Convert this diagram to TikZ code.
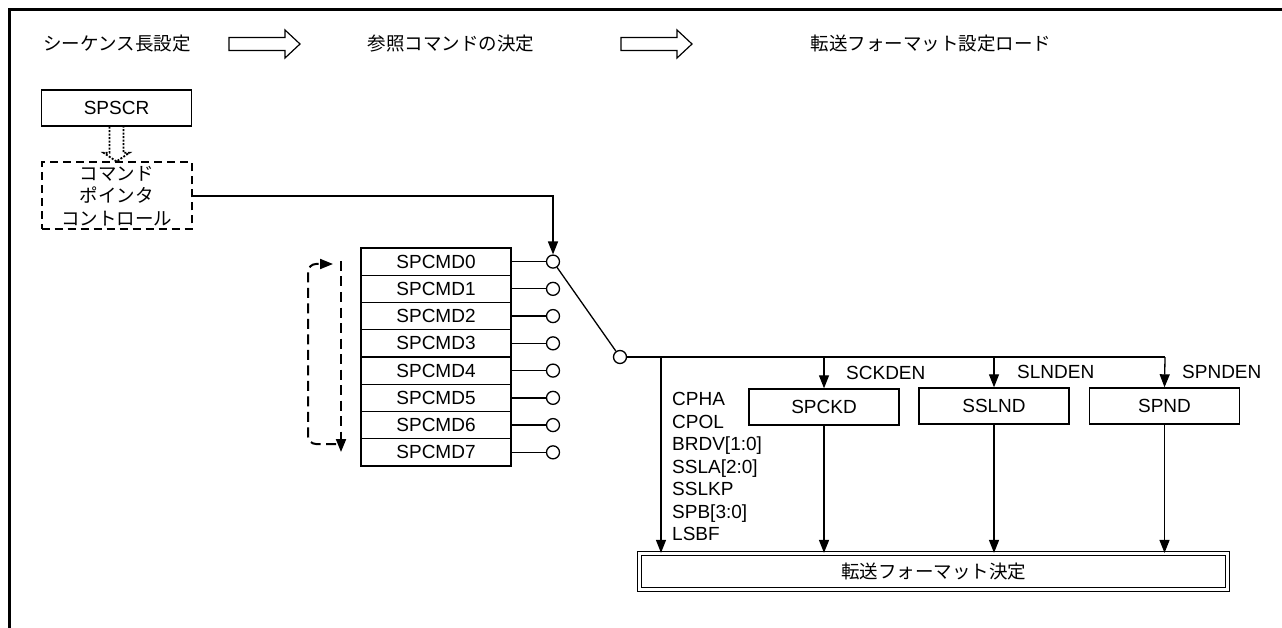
\documentclass[tikz,border=0pt]{standalone}
\usepackage{fontspec}
\setmainfont{Liberation Sans}
\newfontfamily\jp{Noto Sans CJK JP}
\usetikzlibrary{arrows.meta,calc}
\begin{document}
\begin{tikzpicture}[x=1pt,y=-1pt,
  every node/.style={font=\fontsize{19}{22.5}\selectfont, inner sep=0pt},
  jpt/.style={font=\jp\fontsize{18.5}{22.5}\selectfont},
  box/.style={draw, line width=1.4pt, minimum width=150pt, minimum height=36pt},
  cmdbox/.style={draw, line width=1.4pt, minimum width=150pt, minimum height=27.25pt},
  circ/.style={draw, circle, line width=1.3pt, minimum size=13pt, fill=white},
  conn/.style={line width=1.3pt},
  arr/.style={conn, -{Triangle[length=13pt,width=10pt]}},
  loopline/.style={line width=2pt, dash pattern=on 10pt off 5.5pt},
  blockarrow/.style={line width=1.2pt, line join=miter},
  fmtbox/.style={draw, double, line width=1.2pt, double distance=2.4pt, minimum width=588pt, minimum height=36pt}
]
\useasboundingbox (0,0) rectangle (1282,628);
% frame
\draw[line width=3pt, line join=miter] (9,628) -- (9,10) -- (1282,10);

% headers
\node[jpt] (h1) at (117,44) {シーケンス長設定};
\node[jpt] (h2) at (451,44) {参照コマンドの決定};
\node[jpt] (h3) at (931,44) {転送フォーマット設定ロード};
\draw[blockarrow] (229,37.5) -- (285,37.5) -- (285,30) -- (300,44) -- (285,58) -- (285,50.5) -- (229,50.5) -- cycle;
\draw[blockarrow] (621,37.5) -- (677,37.5) -- (677,30) -- (692,44) -- (677,58) -- (677,50.5) -- (621,50.5) -- cycle;

% SPSCR and command pointer control
\node[box] (spscr) at (116.5,108) {SPSCR};
\node[jpt, draw, line width=2pt, dash pattern=on 8pt off 5pt, minimum width=150pt, minimum height=67pt, align=center] (cp) at (116.5,196) {コマンド\\ポインタ\\コントロール};
\draw[line width=1.8pt, dash pattern=on 2pt off 1.5pt]
  ($(spscr.south)+(-7,0)$) -- ($(spscr.south)+(-7,26)$) -- ($(spscr.south)+(-13,26)$)
  -- (cp.north) -- ($(spscr.south)+(13,26)$) -- ($(spscr.south)+(7,26)$) -- ($(spscr.south)+(7,0)$);

% command registers
\foreach \i in {0,...,7}{
  \node[cmdbox] (cmd\i) at (436,{261.6+27.25*\i}) {SPCMD\i};
  \node[circ] (c\i) at (553,{261.6+27.25*\i}) {};
  \draw[conn] (cmd\i.east) -- (c\i.west);
}
\draw[arr] (cp.east) -| (c0.north);

% loop arrow
\draw[loopline, -{Triangle[length=13pt,width=10pt]}] (341,261) -- (341,452);
\draw[loopline, rounded corners=8pt, -{Triangle[length=13pt,width=10pt]}] (336,444) -- (308,444) -- (308,264) -- (333,264);

% switch
\node[circ] (s) at (620,357) {};
\draw[conn] (c0) -- (s);
\coordinate (b1) at (661,357);
\coordinate (b2) at (824,357);
\coordinate (b3) at (994,357);
\coordinate (b4) at (1165,357);
\draw[conn] (s.east) -- (b4);

% target registers
\node[box] (spckd) at (824,407) {SPCKD};
\node[box] (sslnd) at (994,406) {SSLND};
\node[box] (spnd) at (1164.5,406) {SPND};
\node[anchor=west] (l1) at (846,373) {SCKDEN};
\node[anchor=west] (l2) at (1017,372) {SLNDEN};
\node[anchor=west] (l3) at (1182,372) {SPNDEN};
\draw[arr] (b2) -- (spckd.north);
\draw[arr] (b3) -- (sslnd.north);
\draw[arr] (b4) -- (spnd.north);

% format decision
\node[fmtbox, jpt] (fmt) at (933.5,571.5) {転送フォーマット決定};
\node[anchor=west, align=left] (bits) at (672,466.5) {CPHA\\CPOL\\BRDV[1:0]\\SSLA[2:0]\\SSLKP\\SPB[3:0]\\LSBF};
\draw[arr] (b1) -- (b1 |- fmt.north);
\draw[arr] (spckd.south) -- (spckd.south |- fmt.north);
\draw[arr] (sslnd.south) -- (sslnd.south |- fmt.north);
\draw[arr] (spnd.south) -- (spnd.south |- fmt.north);
\end{tikzpicture}
\end{document}
